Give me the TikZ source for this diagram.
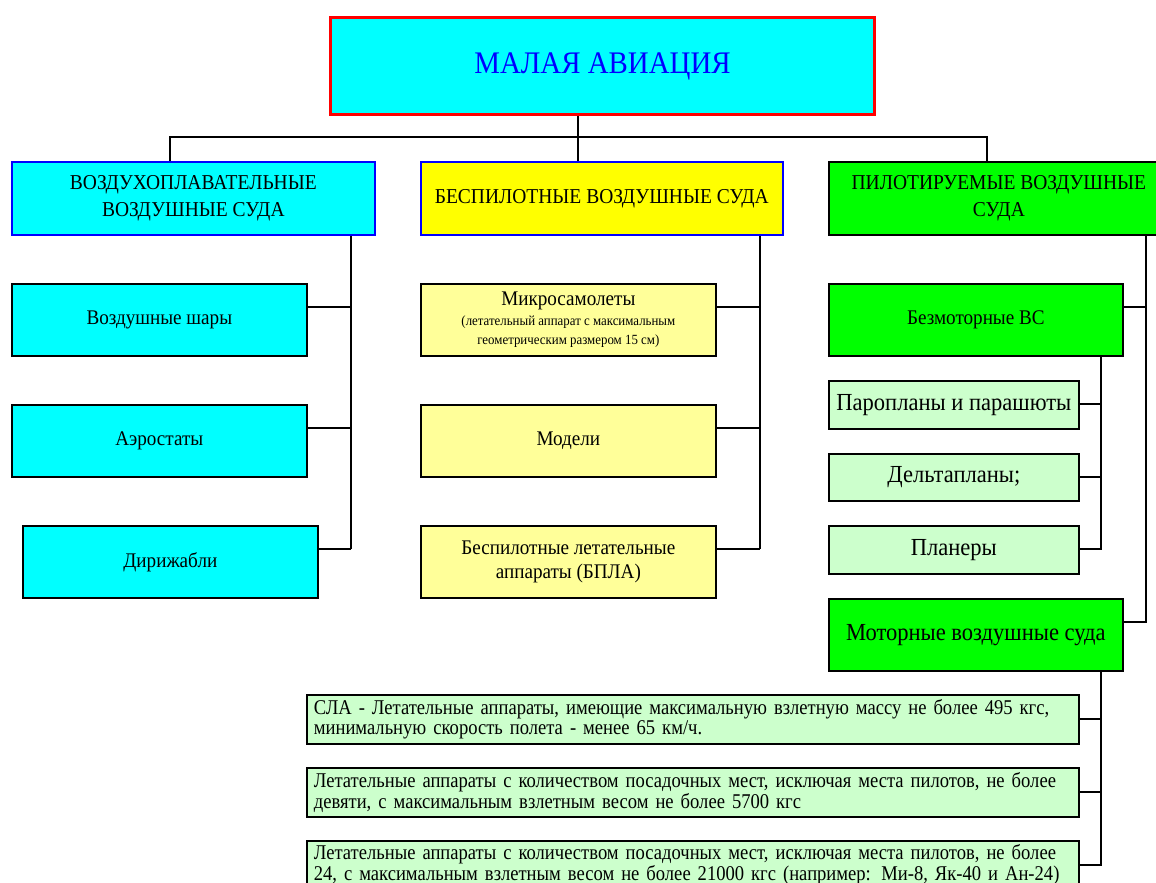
\documentclass[tikz,border=0pt]{standalone}
\usepackage{fontspec}
\setmainfont{Liberation Serif}[FakeStretch=0.92]
\newfontfamily\narrowserif{Liberation Serif}[FakeStretch=0.885]
\definecolor{cy}{RGB}{0,255,255}
\definecolor{yl}{RGB}{255,255,0}
\definecolor{lyl}{RGB}{255,255,153}
\definecolor{gr}{RGB}{0,255,0}
\definecolor{lgr}{RGB}{204,255,204}
\definecolor{bb}{RGB}{0,0,255}
\definecolor{rd}{RGB}{255,0,0}
\tikzset{
  bx/.style={draw, anchor=north west, inner sep=2pt, align=center, line width=1.7pt},
  ln/.style={line width=1.7pt},
  hd/.style={font=\fontsize{21.2}{26.5}\selectfont},
  ch/.style={font=\fontsize{20.8}{24}\selectfont},
  chb/.style={font=\fontsize{24.5}{28}\selectfont},
  lng/.style={font=\narrowserif\fontsize{21}{18}\selectfont, align=left, inner xsep=7pt, text width=758pt},
}
\newcommand\mkbox[7][]{\node[bx,minimum width={#4pt-#2pt},minimum height={#5pt-#3pt},#1] (#6) at (#2,#3) {#7};}
\begin{document}
\begin{tikzpicture}[x=1pt,y=-1pt]
\useasboundingbox (0,0) rectangle (1156,883);
\clip (0,0) rectangle (1156,883);
% title
\mkbox[fill=cy, draw=rd, line width=3pt, text=bb, font=\fontsize{31.4}{38}\selectfont]{329}{16}{873}{113}{top}{МАЛАЯ АВИАЦИЯ}
% headers
\mkbox[fill=cy, draw=bb, hd, yshift=-2pt]{11}{159}{374}{232}{h1}{ВОЗДУХОПЛАВАТЕЛЬНЫЕ\\ВОЗДУШНЫЕ СУДА}
\mkbox[fill=yl, draw=bb, hd]{420}{161}{782}{234}{h2}{БЕСПИЛОТНЫЕ ВОЗДУШНЫЕ СУДА}
\mkbox[fill=gr, hd, yshift=-2pt]{828}{159}{1168}{232}{h3}{ПИЛОТИРУЕМЫЕ ВОЗДУШНЫЕ\\СУДА}
% left column
\mkbox[fill=cy, ch]{11}{283}{306}{355}{a1}{Воздушные шары}
\mkbox[fill=cy, ch]{11}{404}{306}{476}{a2}{Аэростаты}
\mkbox[fill=cy, ch]{22}{525}{317}{597}{a3}{Дирижабли}
% middle column
\mkbox[fill=lyl, ch]{420}{283}{715}{355}{b1}{Микросамолеты\\[-4pt]{\fontsize{14}{17}\selectfont (летательный аппарат с максимальным}\\[-5pt]{\fontsize{14}{17}\selectfont геометрическим размером 15 см)}}
\mkbox[fill=lyl, ch]{420}{404}{715}{476}{b2}{Модели}
\mkbox[fill=lyl, ch]{420}{525}{715}{597}{b3}{Беспилотные летательные\\аппараты (БПЛА)}
% right column
\mkbox[fill=gr, ch]{828}{283}{1122}{355}{c1}{Безмоторные ВС}
\mkbox[fill=lgr, chb]{828}{380}{1078}{428}{d1}{Паропланы и парашюты}
\mkbox[fill=lgr, chb]{828}{453}{1078}{500}{d2}{Дельтапланы;}
\mkbox[fill=lgr, chb]{828}{525}{1078}{573}{d3}{Планеры}
\mkbox[fill=gr, chb]{828}{598}{1122}{670}{c2}{Моторные воздушные суда}
% bottom
\mkbox[fill=lgr, lng]{306}{694}{1078}{743}{e1}{СЛА - Летательные аппараты, имеющие максимальную взлетную массу не более 495 кгс,\\минимальную скорость полета - менее 65 км/ч.}
\mkbox[fill=lgr, lng]{306}{767}{1078}{816}{e2}{Летательные аппараты с количеством посадочных мест, исключая места пилотов, не более\\девяти, с максимальным взлетным весом не более 5700 кгс}
\mkbox[fill=lgr, lng]{306}{840}{1078}{888}{e3}{Летательные аппараты с количеством посадочных мест, исключая места пилотов, не более\\24, с максимальным взлетным весом не более 21000 кгс (например: Ми-8, Як-40 и Ан-24)}
% connectors
\coordinate (bus) at (578,137);
\coordinate (vl) at (351,549);
\coordinate (vm) at (760,549);
\coordinate (vr) at (1146,622);
\coordinate (vs) at (1101,549);
\coordinate (vt) at (1101,865);
\draw[ln] (top.south -| bus) -- (h2.north -| bus);
\draw[ln] (h1.north -| 170,0) -- (170,137) -- (987,137) -- (h3.north -| 987,0);
\draw[ln] (h1.south -| vl) -- (vl);
\draw[ln] (a1.east |- 0,307) -- (351,307);
\draw[ln] (a2.east |- 0,428) -- (351,428);
\draw[ln] (a3.east |- 0,549) -- (vl);
\draw[ln] (h2.south -| vm) -- (vm);
\draw[ln] (b1.east |- 0,307) -- (760,307);
\draw[ln] (b2.east |- 0,428) -- (760,428);
\draw[ln] (b3.east |- 0,549) -- (vm);
\draw[ln] (h3.south -| vr) -- (vr) -- (c2.east |- vr);
\draw[ln] (c1.east |- 0,307) -- (1146,307);
\draw[ln] (c1.south -| vs) -- (vs) -- (d3.east |- vs);
\draw[ln] (d1.east |- 0,404) -- (1101,404);
\draw[ln] (d2.east |- 0,477) -- (1101,477);
\draw[ln] (c2.south -| vt) -- (vt) -- (e3.east |- vt);
\draw[ln] (e1.east |- 0,719) -- (1101,719);
\draw[ln] (e2.east |- 0,792) -- (1101,792);
\end{tikzpicture}
\end{document}
